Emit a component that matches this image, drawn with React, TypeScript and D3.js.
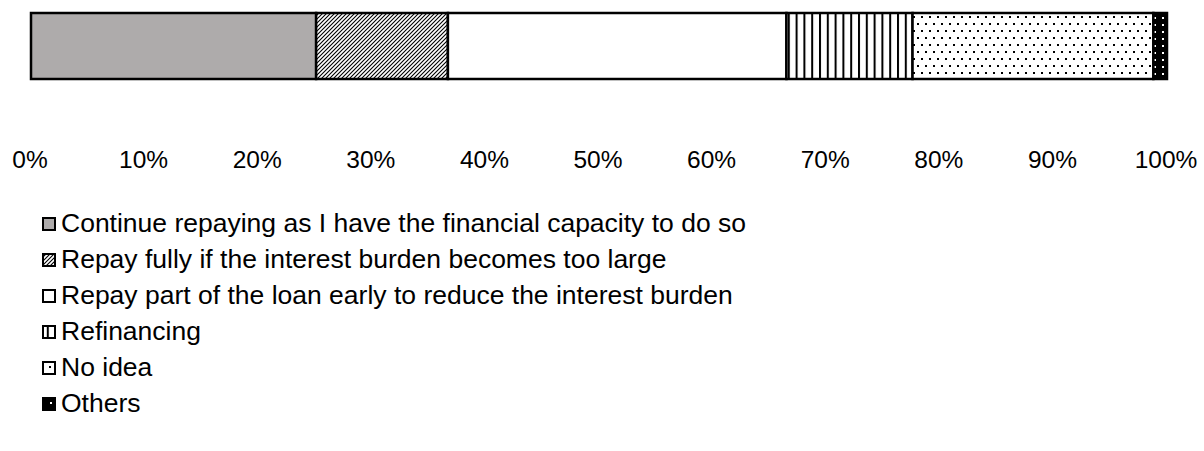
import React from "react";
import * as d3 from "d3";

const categories = [
  "Continue repaying as I have the financial capacity to do so",
  "Repay fully if the interest burden becomes too large",
  "Repay part of the loan early to reduce the interest burden",
  "Refinancing",
  "No idea",
  "Others",
];
const values = [25.1, 11.6, 29.8, 11.1, 21.2, 1.2];
const tickValues = [0, 10, 20, 30, 40, 50, 60, 70, 80, 90, 100];
const fills = ["#AEABAB", "url(#pHatch)", "#FFFFFF", "url(#pVert)", "url(#pDots)", "url(#pOthers)"];

export default function App() {
  const W = 1204;
  const H = 451;
  const x = d3.scaleLinear().domain([0, 100]).range([31, 1167]);
  const barTop = 13;
  const barH = 66;
  const cum = d3.cumsum(values);
  const starts = values.map((v, i) => cum[i] - v);
  const font = "'Liberation Sans', Arial, sans-serif";

  return (
    <svg
      width={W}
      height={H}
      style={{ position: "absolute", left: 0, top: 0, background: "#fff" }}
    >
      <defs>
        <pattern id="pHatch" patternUnits="userSpaceOnUse" width={4} height={4}>
          <rect width={4} height={4} fill="#fff" />
          <path d="M-1,1 l2,-2 M0,4 l4,-4 M3,5 l2,-2" stroke="#000" strokeWidth={1.1} />
        </pattern>
        <pattern id="pVert" patternUnits="userSpaceOnUse" width={7.8} height={8}>
          <rect width={7.8} height={8} fill="#fff" />
          <rect x={0} y={0} width={2} height={8} fill="#000" />
        </pattern>
        <pattern id="pDots" patternUnits="userSpaceOnUse" width={8} height={14}>
          <rect width={8} height={14} fill="#fff" />
          <rect x={1} y={2} width={2} height={2} fill="#000" />
          <rect x={5} y={9} width={2} height={2} fill="#000" />
        </pattern>
        <pattern id="pOthers" patternUnits="userSpaceOnUse" width={8} height={7}>
          <rect width={8} height={7} fill="#000" />
          <rect x={2} y={3} width={2} height={2} fill="#fff" />
        </pattern>
      </defs>

      {values.map((v, i) => (
        <rect
          key={i}
          x={x(starts[i])}
          y={barTop}
          width={x(starts[i] + v) - x(starts[i])}
          height={barH}
          fill={fills[i]}
          stroke="#000"
          strokeWidth={2.5}
        />
      ))}

      {tickValues.map((t) => (
        <text
          key={t}
          x={x(t) - 1}
          y={168}
          textAnchor="middle"
          fontFamily={font}
          fontSize={24.5}
          fill="#000"
        >
          {t + "%"}
        </text>
      ))}

      {categories.map((c, i) => {
        const baseY = 232 + i * 36;
        return (
          <g key={i}>
            <rect
              x={43}
              y={baseY - 14}
              width={12}
              height={12}
              fill={fills[i]}
              stroke="#000"
              strokeWidth={2}
            />
            <text x={61} y={baseY} fontFamily={font} fontSize={26.5} fill="#000">
              {c}
            </text>
          </g>
        );
      })}
    </svg>
  );
}
